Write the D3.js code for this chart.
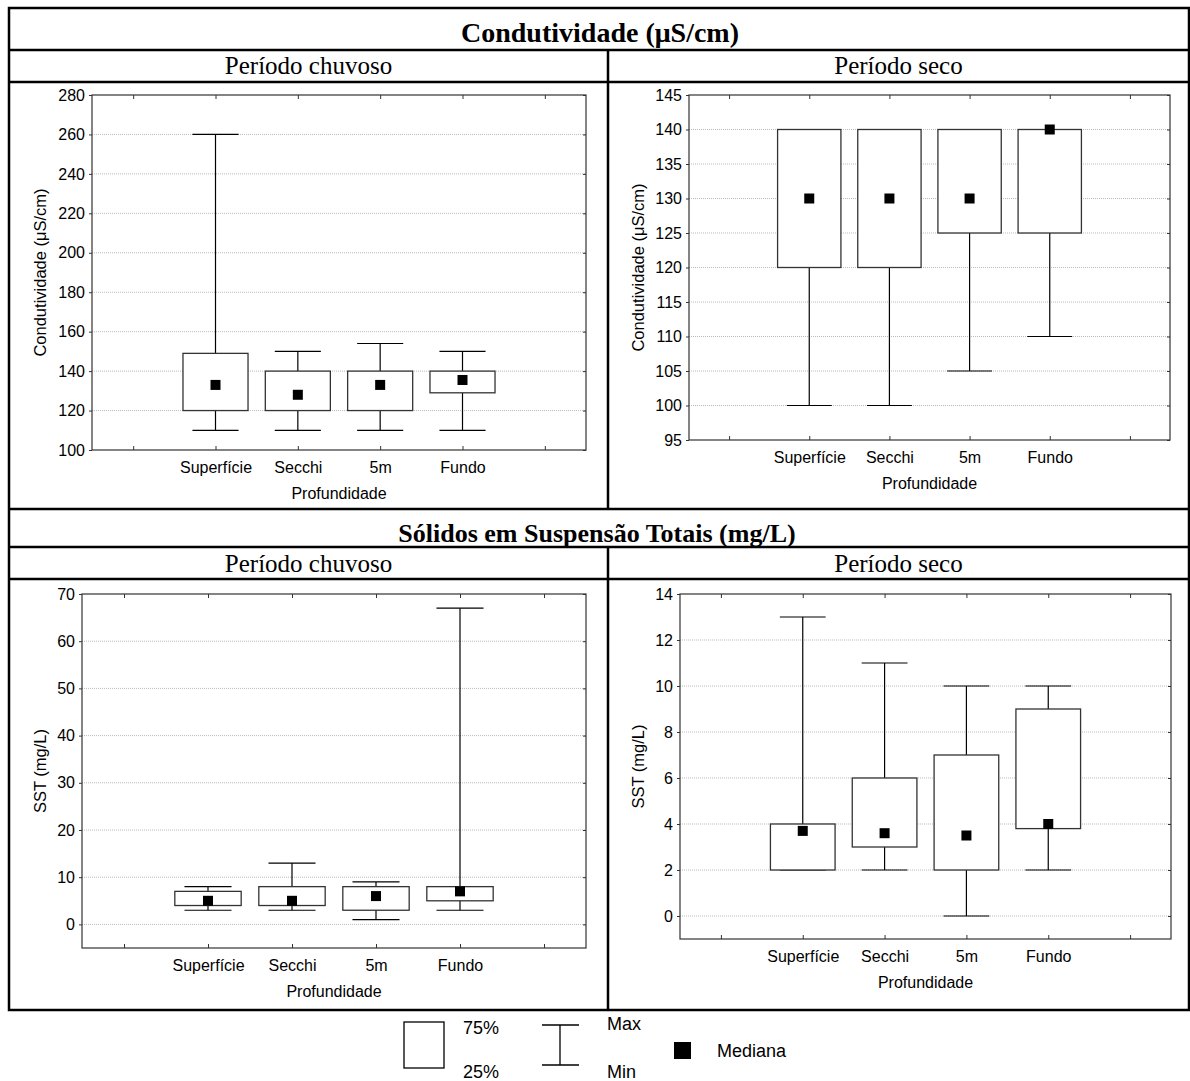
<!DOCTYPE html>
<html>
<head>
<meta charset="utf-8">
<script src="https://cdn.jsdelivr.net/npm/d3@7"></script>
<style>
body { margin: 0; background: #fff; }
text { font-family: "Liberation Sans", Arial, sans-serif; fill: #000; }
.serif { font-family: "Liberation Serif", "Times New Roman", serif; }
</style>
</head>
<body>
<svg id="chart" width="1190" height="1081"></svg>
<script>
const categories = ["Superfície", "Secchi", "5m", "Fundo"];

// Condutividade - período chuvoso
const condChuvMin = [110, 110, 110, 110];
const condChuvQ1 = [120, 120, 120, 129];
const condChuvMed = [133, 128, 133, 135.5];
const condChuvQ3 = [149, 140, 140, 140];
const condChuvMax = [260, 150, 154, 150];
const condChuvTicks = [100, 120, 140, 160, 180, 200, 220, 240, 260, 280];

// Condutividade - período seco
const condSecoMin = [100, 100, 105, 110];
const condSecoQ1 = [120, 120, 125, 125];
const condSecoMed = [130, 130, 130, 140];
const condSecoQ3 = [140, 140, 140, 140];
const condSecoMax = [140, 140, 140, 140];
const condSecoTicks = [95, 100, 105, 110, 115, 120, 125, 130, 135, 140, 145];

// SST - período chuvoso
const sstChuvMin = [3, 3, 1, 3];
const sstChuvQ1 = [4, 4, 3, 5];
const sstChuvMed = [5, 5, 6, 7];
const sstChuvQ3 = [7, 8, 8, 8];
const sstChuvMax = [8, 13, 9, 67];
const sstChuvTicks = [0, 10, 20, 30, 40, 50, 60, 70];

// SST - período seco
const sstSecoMin = [2, 2, 0, 2];
const sstSecoQ1 = [2, 3, 2, 3.8];
const sstSecoMed = [3.7, 3.6, 3.5, 4];
const sstSecoQ3 = [4, 6, 7, 9];
const sstSecoMax = [13, 11, 10, 10];
const sstSecoTicks = [0, 2, 4, 6, 8, 10, 12, 14];

const svg = d3.select("#chart");

// tabela (bordas)
const T = { l: 9, r: 1189, t: 8, b: 1010, mid: 608 };
const hLines = [50, 82, 509, 547, 579];
const tbl = svg.append("g").attr("stroke", "#000").attr("stroke-width", 2.5).attr("fill", "none");
tbl.append("rect").attr("x", T.l).attr("y", T.t).attr("width", T.r - T.l).attr("height", T.b - T.t);
hLines.forEach(y => tbl.append("line").attr("x1", T.l).attr("x2", T.r).attr("y1", y).attr("y2", y));
tbl.append("line").attr("x1", T.mid).attr("x2", T.mid).attr("y1", 50).attr("y2", 509);
tbl.append("line").attr("x1", T.mid).attr("x2", T.mid).attr("y1", 547).attr("y2", T.b);

// títulos
svg.append("text").attr("class", "serif").attr("x", 600).attr("y", 42).attr("text-anchor", "middle")
  .style("font-size", "28px").style("font-weight", "bold").text("Condutividade (μS/cm)");
svg.append("text").attr("class", "serif").attr("x", 597).attr("y", 542).attr("text-anchor", "middle")
  .style("font-size", "26px").style("font-weight", "bold").text("Sólidos em Suspensão Totais (mg/L)");
[[308.5, 74], [898.5, 74], [308.5, 572], [898.5, 572]].forEach((p, i) => {
  svg.append("text").attr("class", "serif").attr("x", p[0]).attr("y", p[1]).attr("text-anchor", "middle")
    .style("font-size", "25px").text(i % 2 === 0 ? "Período chuvoso" : "Período seco");
});

function drawPanel(p) {
  const g = svg.append("g");
  const x = d3.scaleLinear().domain([-1.5, 4.5]).range([p.left, p.right]);
  const y = d3.scaleLinear().domain(p.domain).range([p.bottom, p.top]);
  const step = x(1) - x(0);

  // grade
  g.selectAll(".grid")
    .data(p.ticks.filter(t => t > p.domain[0] && t < p.domain[1]))
    .enter().append("line")
    .attr("x1", p.left).attr("x2", p.right)
    .attr("y1", d => y(d)).attr("y2", d => y(d))
    .attr("stroke", "#bbb").attr("stroke-dasharray", "1,1");

  // eixos
  g.append("g").attr("transform", `translate(${p.left},0)`)
    .call(d3.axisLeft(y).tickValues(p.ticks).tickSize(3).tickPadding(4));
  const xTicks = [-1, 0, 1, 2, 3, 4];
  g.append("g").attr("transform", `translate(0,${p.bottom})`)
    .call(d3.axisBottom(x).tickValues(xTicks).tickSize(-4).tickPadding(12)
      .tickFormat(i => categories[i] || ""));
  g.append("g").attr("transform", `translate(0,${p.top})`)
    .call(d3.axisTop(x).tickValues(xTicks).tickSize(-4).tickFormat(""));
  g.append("g").attr("transform", `translate(${p.right},0)`)
    .call(d3.axisRight(y).tickValues(p.ticks).tickSize(-3).tickFormat(""));
  g.selectAll(".domain").remove();
  g.selectAll(".tick line").attr("stroke", "#333");
  g.selectAll(".tick text").style("font-size", "16px").style("font-family", "Liberation Sans, Arial, sans-serif");

  g.append("rect").attr("x", p.left).attr("y", p.top)
    .attr("width", p.right - p.left).attr("height", p.bottom - p.top)
    .attr("fill", "none").attr("stroke", "#333").attr("stroke-width", 1.2);

  const idx = d3.range(categories.length);
  const boxW = step * 0.79, capW = step * 0.56;

  // bigodes
  g.selectAll(".whisker").data(idx).enter().append("line")
    .attr("x1", i => x(i)).attr("x2", i => x(i))
    .attr("y1", i => y(p.min[i])).attr("y2", i => y(p.max[i]))
    .attr("stroke", "#000").attr("stroke-width", 1.2);
  ["min", "max"].forEach(k => {
    g.selectAll(".cap-" + k).data(idx).enter().append("line")
      .attr("x1", i => x(i) - capW / 2).attr("x2", i => x(i) + capW / 2)
      .attr("y1", i => y(p[k][i])).attr("y2", i => y(p[k][i]))
      .attr("stroke", "#000").attr("stroke-width", 1.2);
  });

  // caixas
  g.selectAll(".box").data(idx).enter().append("rect")
    .attr("x", i => x(i) - boxW / 2).attr("width", boxW)
    .attr("y", i => y(p.q3[i])).attr("height", i => y(p.q1[i]) - y(p.q3[i]))
    .attr("fill", "#fff").attr("stroke", "#333").attr("stroke-width", 1.3);

  // medianas
  g.selectAll(".med").data(idx).enter().append("rect")
    .attr("x", i => x(i) - 5).attr("y", i => y(p.med[i]) - 5)
    .attr("width", 10).attr("height", 10).attr("fill", "#000");

  // rótulos
  g.append("text").attr("x", (x(-1.5) + x(4.5)) / 2).attr("y", p.bottom + 49)
    .attr("text-anchor", "middle").style("font-size", "16px").text("Profundidade");
  g.append("text")
    .attr("transform", `translate(${p.labelX},${(p.top + p.bottom) / 2}) rotate(-90)`)
    .attr("text-anchor", "middle").style("font-size", "16.5px").text(p.yLabel);
}

drawPanel({ left: 92, right: 586, top: 95, bottom: 450, labelX: 46, domain: [100, 280], ticks: condChuvTicks,
  min: condChuvMin, q1: condChuvQ1, med: condChuvMed, q3: condChuvQ3, max: condChuvMax,
  yLabel: "Condutividade (μS/cm)" });
drawPanel({ left: 689, right: 1170, top: 95, bottom: 440, labelX: 644, domain: [95, 145], ticks: condSecoTicks,
  min: condSecoMin, q1: condSecoQ1, med: condSecoMed, q3: condSecoQ3, max: condSecoMax,
  yLabel: "Condutividade (μS/cm)" });
drawPanel({ left: 82, right: 586, top: 594, bottom: 948, labelX: 46, domain: [-5, 70], ticks: sstChuvTicks,
  min: sstChuvMin, q1: sstChuvQ1, med: sstChuvMed, q3: sstChuvQ3, max: sstChuvMax,
  yLabel: "SST (mg/L)" });
drawPanel({ left: 680, right: 1171, top: 594, bottom: 939, labelX: 644, domain: [-1, 14], ticks: sstSecoTicks,
  min: sstSecoMin, q1: sstSecoQ1, med: sstSecoMed, q3: sstSecoQ3, max: sstSecoMax,
  yLabel: "SST (mg/L)" });

// legenda
const lg = svg.append("g");
lg.append("rect").attr("x", 404).attr("y", 1022).attr("width", 40).attr("height", 46)
  .attr("fill", "none").attr("stroke", "#000").attr("stroke-width", 1.3);
lg.append("text").attr("x", 463).attr("y", 1034).style("font-size", "18px").text("75%");
lg.append("text").attr("x", 463).attr("y", 1078).style("font-size", "18px").text("25%");
lg.append("line").attr("x1", 542).attr("x2", 579).attr("y1", 1025).attr("y2", 1025).attr("stroke", "#000").attr("stroke-width", 1.3);
lg.append("line").attr("x1", 542).attr("x2", 579).attr("y1", 1065).attr("y2", 1065).attr("stroke", "#000").attr("stroke-width", 1.3);
lg.append("line").attr("x1", 560).attr("x2", 560).attr("y1", 1025).attr("y2", 1065).attr("stroke", "#000").attr("stroke-width", 1.3);
lg.append("text").attr("x", 607).attr("y", 1030).style("font-size", "18px").text("Max");
lg.append("text").attr("x", 607).attr("y", 1078).style("font-size", "18px").text("Min");
lg.append("rect").attr("x", 674).attr("y", 1042).attr("width", 17).attr("height", 17).attr("fill", "#000");
lg.append("text").attr("x", 717).attr("y", 1057).style("font-size", "18px").text("Mediana");
</script>
</body>
</html>
